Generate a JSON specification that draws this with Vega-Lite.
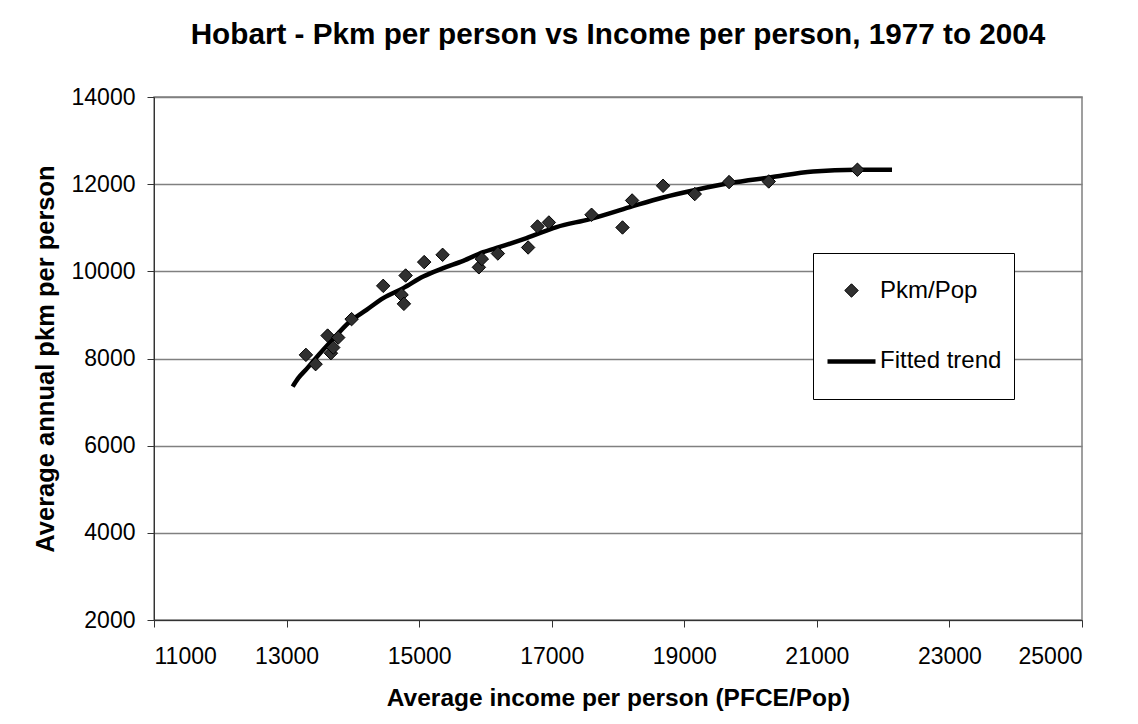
{
  "$schema": "https://vega.github.io/schema/vega-lite/v6.json",
  "width": 928,
  "height": 523,
  "autosize": "none",
  "padding": {"left": 154, "top": 97, "right": 56, "bottom": 104},
  "background": "white",
  "title": {
    "text": "Hobart - Pkm per person vs Income per person,  1977 to 2004",
    "font": "Liberation Sans",
    "fontSize": 29.7,
    "fontWeight": "bold",
    "color": "black",
    "anchor": "middle",
    "frame": "group",
    "offset": 35
  },
  "datasets": {
    "points": [
      {"income": 13292, "pkm": 8083, "series": "Pkm/Pop"},
      {"income": 13438, "pkm": 7870, "series": "Pkm/Pop"},
      {"income": 13619, "pkm": 8526, "series": "Pkm/Pop"},
      {"income": 13669, "pkm": 8122, "series": "Pkm/Pop"},
      {"income": 13704, "pkm": 8251, "series": "Pkm/Pop"},
      {"income": 13779, "pkm": 8480, "series": "Pkm/Pop"},
      {"income": 13981, "pkm": 8903, "series": "Pkm/Pop"},
      {"income": 14458, "pkm": 9667, "series": "Pkm/Pop"},
      {"income": 14735, "pkm": 9461, "series": "Pkm/Pop"},
      {"income": 14770, "pkm": 9254, "series": "Pkm/Pop"},
      {"income": 14796, "pkm": 9904, "series": "Pkm/Pop"},
      {"income": 15076, "pkm": 10212, "series": "Pkm/Pop"},
      {"income": 15354, "pkm": 10379, "series": "Pkm/Pop"},
      {"income": 15901, "pkm": 10092, "series": "Pkm/Pop"},
      {"income": 15946, "pkm": 10283, "series": "Pkm/Pop"},
      {"income": 16188, "pkm": 10409, "series": "Pkm/Pop"},
      {"income": 16644, "pkm": 10547, "series": "Pkm/Pop"},
      {"income": 16786, "pkm": 11029, "series": "Pkm/Pop"},
      {"income": 16957, "pkm": 11121, "series": "Pkm/Pop"},
      {"income": 17601, "pkm": 11298, "series": "Pkm/Pop"},
      {"income": 18068, "pkm": 11006, "series": "Pkm/Pop"},
      {"income": 18213, "pkm": 11626, "series": "Pkm/Pop"},
      {"income": 18680, "pkm": 11963, "series": "Pkm/Pop"},
      {"income": 19158, "pkm": 11773, "series": "Pkm/Pop"},
      {"income": 19676, "pkm": 12048, "series": "Pkm/Pop"},
      {"income": 20274, "pkm": 12062, "series": "Pkm/Pop"},
      {"income": 21612, "pkm": 12331, "series": "Pkm/Pop"}
    ],
    "trend": [
      {"income": 13092, "pkm": 7355},
      {"income": 13176, "pkm": 7548},
      {"income": 13303, "pkm": 7762},
      {"income": 13454, "pkm": 8030},
      {"income": 13654, "pkm": 8366},
      {"income": 13956, "pkm": 8848},
      {"income": 14207, "pkm": 9116},
      {"income": 14458, "pkm": 9385},
      {"income": 14760, "pkm": 9615},
      {"income": 15061, "pkm": 9881},
      {"income": 15363, "pkm": 10074},
      {"income": 15665, "pkm": 10241},
      {"income": 15966, "pkm": 10440},
      {"income": 16218, "pkm": 10560},
      {"income": 16620, "pkm": 10763},
      {"income": 17073, "pkm": 11015},
      {"income": 17575, "pkm": 11199},
      {"income": 18178, "pkm": 11474},
      {"income": 18680, "pkm": 11695},
      {"income": 19184, "pkm": 11872},
      {"income": 19686, "pkm": 12025},
      {"income": 20289, "pkm": 12154},
      {"income": 20943, "pkm": 12292},
      {"income": 21597, "pkm": 12331},
      {"income": 22134, "pkm": 12331}
    ]
  },
  "layer": [
    {
      "data": {"name": "trend"},
      "mark": {"type": "line", "color": "black", "strokeWidth": 4.5, "interpolate": "monotone", "clip": true},
      "encoding": {
        "x": {"field": "income", "type": "quantitative"},
        "y": {"field": "pkm", "type": "quantitative"}
      }
    },
    {
      "data": {"name": "points"},
      "mark": {"type": "point", "filled": true, "fill": "#303030", "stroke": "#000000", "opacity": 1},
      "encoding": {
        "x": {
          "field": "income", "type": "quantitative",
          "scale": {"domain": [11000, 25000], "nice": false, "zero": false},
          "axis": {
            "values": [11000, 13000, 15000, 17000, 19000, 21000, 23000, 25000],
            "format": "d",
            "title": "Average income per person (PFCE/Pop)",
            "grid": false,
            "domainColor": "#333333",
            "tickColor": "#333333",
            "tickSize": 7,
            "labelPadding": 18,
            "labelFont": "Liberation Sans",
            "labelFontSize": 23,
            "labelColor": "black",
            "titleFont": "Liberation Sans",
            "titleFontSize": 24.5,
            "titleFontWeight": "bold",
            "titleColor": "black",
            "titlePadding": 18
          }
        },
        "y": {
          "field": "pkm", "type": "quantitative",
          "scale": {"domain": [2000, 14000], "nice": false, "zero": false},
          "axis": {
            "values": [2000, 4000, 6000, 8000, 10000, 12000, 14000],
            "format": "d",
            "title": "Average annual pkm per person",
            "grid": true,
            "gridColor": "#808080",
            "gridWidth": 1.3,
            "domainColor": "#333333",
            "tickColor": "#333333",
            "tickSize": 7,
            "labelPadding": 12,
            "labelFont": "Liberation Sans",
            "labelFontSize": 23,
            "labelColor": "black",
            "titleFont": "Liberation Sans",
            "titleFontSize": 25.5,
            "titleFontWeight": "bold",
            "titleColor": "black",
            "titlePadding": 13
          }
        },
        "shape": {
          "field": "series", "type": "nominal",
          "scale": {"domain": ["Pkm/Pop", "Fitted trend"], "range": ["M0,-0.27L0.27,0L0,0.27L-0.27,0Z", "M-1,0H1"]},
          "legend": {
            "title": " ",
            "titleFontSize": 1,
            "titleOrient": "bottom",
            "titlePadding": 12.3,
            "orient": "none",
            "legendX": 659,
            "legendY": 156,
            "strokeColor": "black",
            "fillColor": "white",
            "padding": 12,
            "labelOffset": 2,
            "labelFont": "Liberation Sans",
            "labelFontSize": 24,
            "labelColor": "black",
            "rowPadding": 31.9
          }
        },
        "size": {
          "field": "series", "type": "nominal",
          "scale": {"type": "point", "padding": 0, "domain": ["Pkm/Pop", "Fitted trend"], "range": [2480, 2304]},
          "legend": {
            "title": " ",
            "titleFontSize": 1,
            "titleOrient": "bottom",
            "titlePadding": 12.3,
            "orient": "none",
            "legendX": 659,
            "legendY": 156,
            "strokeColor": "black",
            "fillColor": "white",
            "padding": 12,
            "labelOffset": 2,
            "labelFont": "Liberation Sans",
            "labelFontSize": 24,
            "labelColor": "black",
            "rowPadding": 31.9
          }
        },
        "strokeWidth": {
          "field": "series", "type": "nominal",
          "scale": {"type": "point", "padding": 0, "domain": ["Pkm/Pop", "Fitted trend"], "range": [1, 4.5]},
          "legend": {
            "title": " ",
            "titleFontSize": 1,
            "titleOrient": "bottom",
            "titlePadding": 12.3,
            "orient": "none",
            "legendX": 659,
            "legendY": 156,
            "strokeColor": "black",
            "fillColor": "white",
            "padding": 12,
            "labelOffset": 2,
            "labelFont": "Liberation Sans",
            "labelFontSize": 24,
            "labelColor": "black",
            "rowPadding": 31.9
          }
        }
      }
    }
  ],
  "config": {
    "view": {"stroke": "#808080", "strokeWidth": 1.5}
  }
}
